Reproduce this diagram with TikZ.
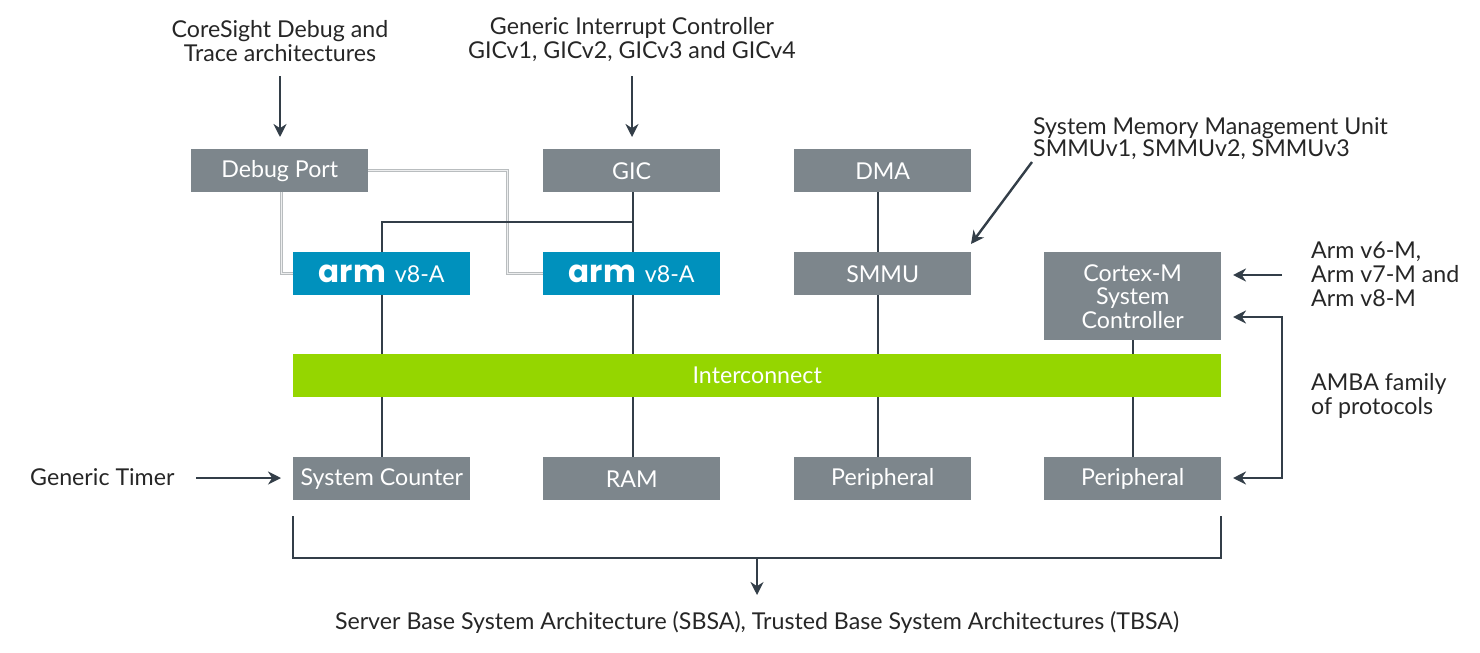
\documentclass[tikz,border=0pt]{standalone}
\usepackage{fontspec}
\setmainfont{Lato}
\newfontfamily\logofont{Poppins}
\usetikzlibrary{arrows.meta,backgrounds}
\definecolor{boxgrey}{HTML}{7D868C}
\definecolor{armblue}{HTML}{0091BD}
\definecolor{icgreen}{HTML}{95D600}
\definecolor{linedark}{HTML}{333E48}
\definecolor{dbg}{HTML}{B9BDBF}
\tikzset{
 base/.style={minimum height=43pt,inner sep=0pt,text=white,font=\fontsize{23.2}{23.5}\selectfont,align=center,anchor=north west},
 greybox/.style={base,fill=boxgrey,minimum width=177pt},
 armbox/.style={base,fill=armblue,minimum width=177pt},
 icbox/.style={base,fill=icgreen,minimum width=928pt},
 lab/.style={inner sep=0pt,text=black!85,font=\fontsize{23.2}{24}\selectfont,align=center},
 labl/.style={lab,align=left,anchor=west},
 conn/.style={draw=linedark,line width=2.4pt},
 thinconn/.style={draw=linedark,line width=1.8pt},
 arr/.style={conn,-{Stealth[length=13pt,width=13pt]}},
 dbl/.style={draw=dbg,line width=1pt,double=white!75!dbg,double distance=1pt},
}
\newcommand{\armlogo}{{\logofont\bfseries\fontsize{31}{31}\selectfont arm}\hspace{9pt}v8-A}
\begin{document}
\begin{tikzpicture}[x=1pt,y=-1pt]
\useasboundingbox (0,0) rectangle (1480,653);
\node[greybox] (dbgp) at (191,149) {Debug Port};
\node[greybox] (gic) at (543,149) {GIC};
\node[greybox] (dma) at (794,149) {DMA};
\node[armbox] (a1) at (293,252) {\armlogo};
\node[armbox] (a2) at (543,252) {\armlogo};
\node[greybox] (smmu) at (794,252) {SMMU};
\node[greybox,minimum height=88pt] (cm) at (1044,252) {Cortex-M\\System\\Controller};
\node[icbox] (ic) at (293,354) {Interconnect};
\node[greybox] (sc) at (293,457) {System Counter};
\node[greybox] (ram) at (543,457) {RAM};
\node[greybox] (p1) at (794,457) {Peripheral};
\node[greybox] (p2) at (1044,457) {Peripheral};
\node[lab] (l1) at (280,41) {CoreSight Debug and\\Trace architectures};
\node[lab] (l2) at (632,40) {Generic Interrupt Controller\\GICv1, GICv2, GICv3 and GICv4};
\node[labl,font=\fontsize{23.2}{22.5}\selectfont] (l3) at (1033,138.5) {System Memory Management Unit\\SMMUv1, SMMUv2, SMMUv3};
\node[labl] (l4) at (1311,274) {Arm v6-M,\\Arm v7-M and\\Arm v8-M};
\node[labl] (l5) at (1311,396) {AMBA family\\of protocols};
\node[lab,anchor=west] (l6) at (30,477) {Generic Timer};
\node[lab] (l7) at (757,622) {Server Base System Architecture (SBSA), Trusted Base System Architectures (TBSA)};
\coordinate (s1) at (280,76);
\coordinate (e1) at (280,137);
\coordinate (s2) at (632,76);
\coordinate (e2) at (632,137);
\coordinate (s3) at (1032,162);
\coordinate (e3) at (971,244);
\coordinate (s4) at (1282,275);
\coordinate (e4) at (1233,275);
\coordinate (s5) at (1233,317);
\coordinate (c5) at (1282,317);
\coordinate (c6) at (1282,478);
\coordinate (e5) at (1233,478);
\coordinate (s6) at (196,478);
\coordinate (e6) at (281,478);
\coordinate (b1) at (293,516);
\coordinate (b2) at (293,558);
\coordinate (b3) at (1221,558);
\coordinate (b4) at (1221,516);
\coordinate (bm) at (757,558);
\coordinate (be) at (757,595);
\coordinate (j) at (633,222);
\begin{scope}[on background layer]
\draw[dbl] (dbgp.south -| 281,0) |- (a1.west);
\draw[dbl] (dbgp.east |- 0,170.5) -| (507.5,222) |- (a2.west);
\draw[conn] (633,170) coordinate (g1) (gic.south -| g1) -- (a2.north -| g1);
\draw[conn] (j) -| (a1);
\draw[conn] (a1) -- (sc);
\draw[conn] (a2.south -| g1) -- (ram.north -| g1);
\draw[conn] (878,170) coordinate (g2) (dma.south -| g2) -- (smmu.north -| g2);
\draw[conn] (smmu.south -| g2) -- (p1.north -| g2);
\draw[thinconn] (cm) -- (p2);
\end{scope}
\draw[arr] (s1) -- (e1);
\draw[arr] (s2) -- (e2);
\draw[arr] (s3) -- (e3);
\draw[arr] (s4) -- (e4);
\draw[arr,{Stealth[length=13pt,width=13pt]}-{Stealth[length=13pt,width=13pt]}] (s5) -- (c5) -- (c6) -- (e5);
\draw[arr] (s6) -- (e6);
\draw[conn] (b1) -- (b2) -- (b3) -- (b4);
\draw[arr] (bm) -- (be);
\end{tikzpicture}
\end{document}
